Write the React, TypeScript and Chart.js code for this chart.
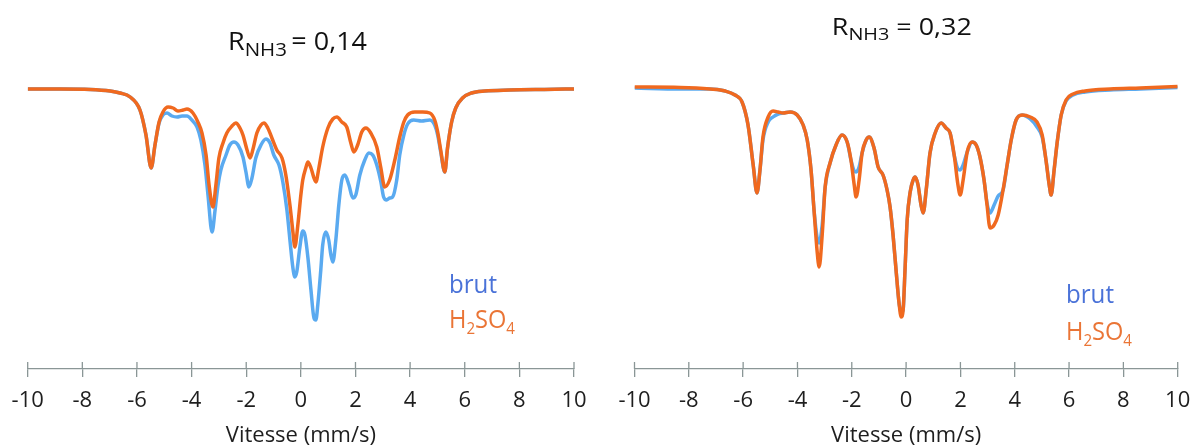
import React, { useEffect, useRef } from 'react';
import { Chart, registerables } from 'chart.js';

Chart.register(...registerables);

// ---------- DATA (relative transmission, %) ----------
// Left panel : R_NH3 = 0,14
const leftBrutV = [-10, -8.81, -7.71, -6.98, -6.62, -6.25, -5.89, -5.67, -5.48, -5.34, -5.19, -5.05, -4.90, -4.72, -4.53, -4.35, -4.17, -3.99, -3.80, -3.66, -3.51, -3.40, -3.25, -3.14, -3.03, -2.93, -2.74, -2.60, -2.45, -2.30, -2.12, -2.01, -1.90, -1.79, -1.65, -1.46, -1.28, -1.13, -0.99, -0.80, -0.66, -0.51, -0.40, -0.29, -0.22, -0.15, -0.04, 0.07, 0.15, 0.26, 0.37, 0.48, 0.55, 0.62, 0.73, 0.80, 0.91, 1.02, 1.10, 1.17, 1.28, 1.39, 1.50, 1.61, 1.76, 1.90, 2.01, 2.16, 2.34, 2.49, 2.63, 2.78, 2.93, 3.03, 3.14, 3.25, 3.36, 3.51, 3.62, 3.77, 3.91, 4.13, 4.42, 4.72, 4.90, 5.01, 5.12, 5.27, 5.37, 5.52, 5.67, 5.92, 6.25, 6.73, 7.64, 8.92, 10];
const leftBrutT = [100, 100, 99.98, 99.9, 99.8, 99.6, 98.95, 97.7, 96.05, 97.2, 98.3, 98.7, 98.8, 98.65, 98.6, 98.65, 98.65, 98.45, 98.1, 97.45, 96.2, 94.7, 92.85, 93.95, 95.2, 95.95, 96.7, 97.2, 97.35, 97.2, 96.6, 95.85, 95.1, 95.55, 96.55, 97.2, 97.5, 97.3, 96.7, 96.2, 95.35, 93.95, 92.45, 91.05, 90.6, 90.85, 92.05, 92.9, 92.7, 91.55, 89.95, 88.55, 88.45, 89.2, 90.95, 92.2, 92.85, 92.45, 91.7, 91.35, 92.45, 94.2, 95.45, 95.7, 95.2, 94.55, 94.7, 95.7, 96.45, 96.8, 96.7, 96.2, 95.35, 94.6, 94.45, 94.55, 94.6, 95.45, 96.7, 97.7, 98.25, 98.45, 98.4, 98.45, 98.2, 97.7, 96.85, 95.85, 97.05, 98.35, 99.05, 99.55, 99.8, 99.9, 99.95, 99.98, 100];
const leftAcidV = [-10, -8.81, -7.71, -6.98, -6.62, -6.25, -5.89, -5.67, -5.48, -5.34, -5.19, -5.05, -4.86, -4.68, -4.50, -4.31, -4.17, -3.95, -3.77, -3.62, -3.47, -3.36, -3.22, -3.11, -3.00, -2.85, -2.71, -2.52, -2.38, -2.23, -2.12, -1.97, -1.86, -1.76, -1.61, -1.46, -1.35, -1.21, -1.06, -0.88, -0.69, -0.55, -0.40, -0.29, -0.22, -0.11, 0.00, 0.07, 0.18, 0.26, 0.37, 0.48, 0.55, 0.66, 0.80, 0.99, 1.17, 1.32, 1.50, 1.68, 1.83, 1.94, 2.08, 2.23, 2.38, 2.56, 2.78, 2.93, 3.07, 3.25, 3.44, 3.62, 3.77, 3.91, 4.17, 4.46, 4.72, 4.90, 5.01, 5.12, 5.27, 5.37, 5.52, 5.67, 5.92, 6.25, 6.73, 7.64, 8.92, 10];
const leftAcidT = [100, 100, 99.98, 99.9, 99.8, 99.6, 98.95, 97.7, 96.05, 97.2, 98.35, 98.85, 99.1, 99.05, 98.9, 98.95, 99.0, 98.8, 98.35, 97.8, 96.7, 95.2, 94.1, 95.2, 96.55, 97.3, 97.8, 98.15, 98.3, 98.05, 97.7, 96.95, 96.55, 96.95, 97.8, 98.2, 98.3, 98.05, 97.55, 96.95, 96.55, 95.7, 94.2, 92.85, 92.1, 93.2, 94.7, 95.45, 96.05, 96.35, 96.05, 95.55, 95.35, 96.05, 97.1, 98.05, 98.5, 98.6, 98.35, 98.1, 97.3, 96.85, 97.2, 97.85, 98.05, 97.8, 97.1, 96.05, 95.1, 95.45, 96.45, 97.6, 98.35, 98.7, 98.85, 98.85, 98.8, 98.45, 97.85, 96.95, 95.85, 97.05, 98.35, 99.05, 99.55, 99.8, 99.9, 99.95, 99.98, 100];

// Right panel : R_NH3 = 0,32
const rightV = [-10, -8.32, -7.22, -6.66, -6.30, -6.04, -5.82, -5.63, -5.49, -5.38, -5.27, -5.08, -4.90, -4.71, -4.53, -4.27, -4.01, -3.79, -3.64, -3.50, -3.39, -3.28, -3.20, -3.09, -2.98, -2.80, -2.58, -2.36, -2.17, -2.03, -1.91, -1.84, -1.73, -1.62, -1.47, -1.36, -1.18, -1.03, -0.85, -0.70, -0.59, -0.48, -0.37, -0.26, -0.18, -0.11, -0.04, 0.04, 0.15, 0.26, 0.33, 0.44, 0.55, 0.63, 0.74, 0.88, 1.07, 1.29, 1.47, 1.62, 1.77, 1.91, 1.99, 2.10, 2.25, 2.43, 2.58, 2.72, 2.87, 2.98, 3.09, 3.24, 3.39, 3.57, 3.72, 3.87, 4.05, 4.27, 4.57, 4.82, 5.01, 5.15, 5.27, 5.34, 5.45, 5.56, 5.71, 5.89, 6.15, 6.59, 7.51, 8.62, 10];
const rightBrutT = [100.05, 100.0, 100.0, 99.9, 99.7, 99.35, 98.2, 96.2, 94.8, 95.95, 97.45, 98.35, 98.6, 98.75, 98.8, 98.85, 98.7, 98.2, 97.45, 95.95, 93.95, 92.6, 92.3, 93.2, 95.1, 96.3, 97.2, 97.7, 97.35, 96.45, 95.9, 95.85, 96.1, 96.8, 97.45, 97.6, 97.05, 96.1, 95.7, 94.95, 94.1, 92.7, 90.95, 89.3, 88.8, 88.95, 90.95, 93.45, 94.85, 95.45, 95.6, 95.2, 94.2, 93.8, 94.95, 96.8, 97.8, 98.3, 98.05, 97.8, 96.7, 96.0, 95.95, 96.2, 96.85, 97.35, 97.2, 96.6, 95.45, 94.3, 93.8, 94.2, 94.65, 94.95, 96.2, 97.45, 98.45, 98.7, 98.5, 98.1, 97.6, 96.45, 95.2, 94.7, 95.95, 97.3, 98.7, 99.4, 99.7, 99.85, 99.95, 100.0, 100.08];
const rightAcidT = [100.1, 100.08, 100.0, 99.9, 99.7, 99.35, 98.2, 96.2, 94.8, 95.95, 97.6, 98.6, 98.9, 98.85, 98.8, 98.85, 98.7, 98.2, 97.45, 95.95, 93.95, 91.95, 91.1, 92.7, 95.1, 96.3, 97.2, 97.7, 97.35, 96.45, 95.2, 94.6, 95.45, 96.8, 97.45, 97.6, 97.05, 96.1, 95.7, 94.95, 94.1, 92.7, 90.95, 89.3, 88.6, 88.95, 90.95, 93.45, 94.85, 95.45, 95.6, 95.2, 94.2, 93.8, 94.95, 96.8, 97.8, 98.3, 98.05, 97.8, 96.7, 95.2, 94.7, 95.45, 96.85, 97.35, 97.2, 96.6, 95.45, 94.2, 93.05, 93.2, 93.7, 94.95, 96.2, 97.45, 98.45, 98.7, 98.6, 98.35, 97.7, 96.45, 95.2, 94.7, 95.95, 97.3, 98.7, 99.45, 99.75, 99.9, 100.0, 100.05, 100.12];

const xTicks = [-10, -8, -6, -4, -2, 0, 2, 4, 6, 8, 10];
const seriesNames = ['brut', 'H2SO4'];
const axisTitle = 'Vitesse (mm/s)';

// ---------- STYLE ----------
const BLUE = '#5aaaf0';
const ORANGE = '#f0691f';
const BLUE_TXT = '#4a72d8';
const ORANGE_TXT = '#ea7536';
const AXIS = '#8a9696';
const FONT = '"Open Sans", "Noto Sans", sans-serif';

type Run = { text: string; sub?: boolean };
type Label = {
  runs: Run[]; x: number; y: number; size: number; subSize: number; subDy: number;
  color: string; align: 'left' | 'center'; width?: number;
};

function drawLabel(ctx: CanvasRenderingContext2D, lab: Label) {
  ctx.save();
  ctx.fillStyle = lab.color;
  ctx.textBaseline = 'alphabetic';
  ctx.textAlign = 'left';
  const fontOf = (r: Run) => `${r.sub ? lab.subSize : lab.size}px ${FONT}`;
  let total = 0;
  for (const r of lab.runs) { ctx.font = fontOf(r); total += ctx.measureText(r.text).width; }
  const sx = lab.width ? lab.width / total : 1;
  ctx.translate(lab.x, lab.y);
  ctx.scale(sx, 1);
  let cx = lab.align === 'center' ? -total / 2 : 0;
  for (const r of lab.runs) {
    ctx.font = fontOf(r);
    ctx.fillText(r.text, cx, r.sub ? lab.subDy : 0);
    cx += ctx.measureText(r.text).width;
  }
  ctx.restore();
}

type PanelCfg = {
  left: number;
  padLeft: number;
  padRight: number;
  brutV: number[]; brutT: number[];
  acidV: number[]; acidT: number[];
  labels: Label[];
};

const h2so4 = (x: number, y: number): Label => ({
  runs: [{ text: 'H' }, { text: '2', sub: true }, { text: 'SO' }, { text: '4', sub: true }],
  x, y, size: 25, subSize: 16, subDy: 6, color: ORANGE_TXT, align: 'left', width: 66,
});
const brut = (x: number, y: number): Label => ({
  runs: [{ text: seriesNames[0] }], x, y, size: 25, subSize: 16, subDy: 6, color: BLUE_TXT, align: 'left', width: 48,
});

const panels: PanelCfg[] = [
  {
    left: 0, padLeft: 27.7, padRight: 27,
    brutV: leftBrutV, brutT: leftBrutT, acidV: leftAcidV, acidT: leftAcidT,
    labels: [
      { runs: [{ text: 'R' }, { text: 'NH3', sub: true }, { text: '\u2009= 0,14' }], x: 297.5, y: 50, size: 25, subSize: 19, subDy: 6, color: '#111', align: 'center', width: 139 },
      brut(449, 292.5),
      h2so4(449, 328),
    ],
  },
  {
    left: 601, padLeft: 33.5, padRight: 24.3,
    brutV: rightV, brutT: rightBrutT, acidV: rightV, acidT: rightAcidT,
    labels: [
      { runs: [{ text: 'R' }, { text: 'NH3', sub: true }, { text: ' = 0,32' }], x: 300.8, y: 35, size: 23, subSize: 17, subDy: 5, color: '#111', align: 'center', width: 140 },
      brut(465, 302.5),
      h2so4(465, 340),
    ],
  },
];

function Panel({ cfg }: { cfg: PanelCfg }) {
  const ref = useRef<HTMLCanvasElement>(null);
  useEffect(() => {
    const toPts = (v: number[], t: number[]) => v.map((x, i) => ({ x, y: t[i] }));
    const overlay = {
      id: 'overlay',
      afterDraw(chart: any) {
        const ctx = chart.ctx as CanvasRenderingContext2D;
        const xs = chart.scales.x;
        const b = chart.chartArea.bottom;
        ctx.save();
        ctx.strokeStyle = AXIS;
        ctx.lineWidth = 1.3;
        xs.ticks.forEach((t: any) => {
          const px = xs.getPixelForValue(t.value);
          ctx.beginPath();
          ctx.moveTo(px, b - 7);
          ctx.lineTo(px, b);
          ctx.stroke();
        });
        ctx.restore();
        cfg.labels.forEach((l) => drawLabel(ctx, l));
      },
    };
    const chart = new Chart(ref.current as HTMLCanvasElement, {
      type: 'line',
      data: {
        datasets: [
          {
            label: seriesNames[1], data: toPts(cfg.acidV, cfg.acidT), borderColor: ORANGE,
            borderWidth: 3.5, pointRadius: 0, cubicInterpolationMode: 'monotone', fill: false, order: 0,
          },
          {
            label: seriesNames[0], data: toPts(cfg.brutV, cfg.brutT), borderColor: BLUE,
            borderWidth: 3.5, pointRadius: 0, cubicInterpolationMode: 'monotone', fill: false, order: 1,
          },
        ],
      },
      options: {
        animation: false,
        responsive: false,
        maintainAspectRatio: false,
        layout: { padding: { left: cfg.padLeft, right: cfg.padRight, top: 69, bottom: 0 } },
        plugins: { legend: { display: false }, tooltip: { enabled: false }, title: { display: false } },
        scales: {
          x: {
            type: 'linear', min: -10, max: 10,
            afterBuildTicks: (s: any) => { s.ticks = xTicks.map((v) => ({ value: v })); },
            afterFit: (s: any) => { s.height = 79; },
            grid: { display: true, drawOnChartArea: false, drawTicks: true, tickLength: 8, color: AXIS, lineWidth: 1.3 },
            border: { display: true, color: AXIS, width: 1.3 },
            ticks: { padding: 11, color: '#1e1e1e', font: { family: FONT, size: 22 }, maxRotation: 0, autoSkip: false, callback: (v: any) => String(v) },
            title: { display: true, text: axisTitle, color: '#1e1e1e', font: { family: FONT, size: 22, lineHeight: 1.1 }, padding: { top: 0, bottom: 0 } },
          },
          y: { type: 'linear', display: false, min: 86, max: 101 },
        },
      },
      plugins: [overlay],
    } as any);
    return () => chart.destroy();
  }, []);
  return (
    <canvas ref={ref} width={601} height={448}
      style={{ position: 'absolute', left: cfg.left, top: 0, width: 601, height: 448 }} />
  );
}

export default function App() {
  return (
    <div style={{ position: 'absolute', left: 0, top: 0, width: 1202, height: 448, background: '#fff', overflow: 'hidden' }}>
      {panels.map((p, i) => <Panel key={i} cfg={p} />)}
    </div>
  );
}
